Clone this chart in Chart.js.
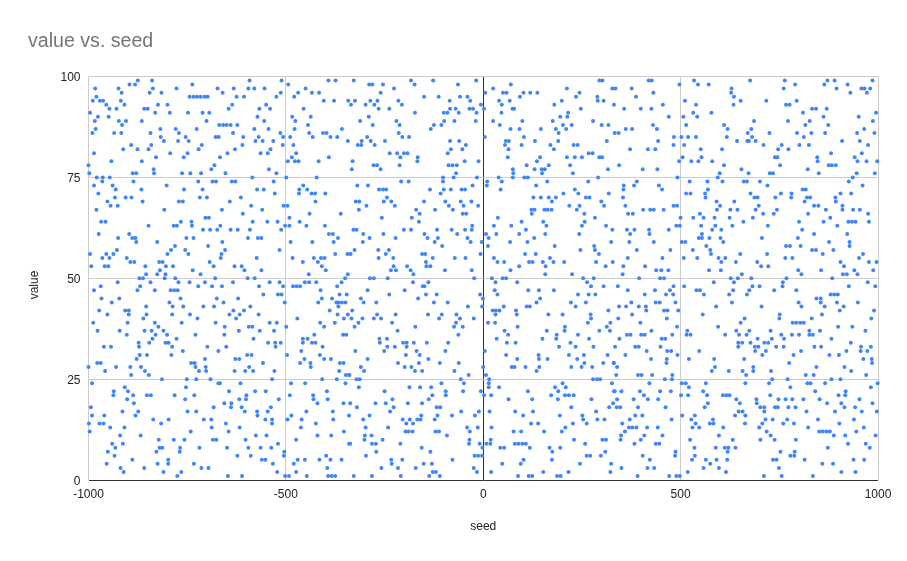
<!DOCTYPE html>
<html><head><meta charset="utf-8">
<style>html,body{margin:0;padding:0;background:#fff}canvas{display:block}</style>
<script src="https://cdn.jsdelivr.net/npm/chart.js@4"></script>
</head><body><canvas id="c" width="907" height="561"></canvas>
<script>
const chartTitle="value vs. seed";
const xAxisTitle="seed";
const yAxisTitle="value";
const values=[99,98,97,96,95,94,93,92,91,90,89,88,87,86,85,84,83,82,81,80,79,78,77,76,75,74,73,72,71,70,69,68,67,66,65,64,63,62,61,60,59,58,57,56,55,54,53,52,51,50,49,48,47,46,45,44,43,42,41,40,39,38,37,36,35,34,33,32,31,30,29,28,27,26,25,24,23,22,21,20,19,18,17,16,15,14,13,12,11,10,9,8,7,6,5,4,3,2,1];
const seedLists=[
[-875,-839,-592,-511,-392,-374,-328,-183,-127,-18,294,302,419,427,534,676,764,872,890,986],
[-896,-882,-737,-494,-289,-281,-254,-174,-64,70,497,544,571,790,864,923],
[-983,-924,-837,-777,-673,-632,-595,-580,-554,-450,-226,25,212,327,335,376,629,761,895,958,966,980],
[-916,-845,-815,-660,-513,-469,-434,-416,-260,5,50,59,102,119,137,244,431,628,930,972],
[-980,-744,-734,-725,-716,-706,-698,-625,-606,-524,-479,-150,-113,-59,-40,93,235,289,387,635],
[-989,-971,-963,-918,-404,-378,-342,-325,-286,-268,-215,-85,-33,40,67,199,290,305,511,652,717,794],
[-955,-909,-824,-800,-636,-550,-335,-298,-276,-206,-6,47,180,331,455,539,634,767,776],
[-947,-929,-859,-850,-645,-567,-540,-455,-265,-238,-84,-70,-35,-26,2,74,78,247,357,399,426,833,843,870],
[-996,-831,-794,-748,-711,-694,-173,-100,-91,-62,-17,46,215,532,578,810,995],
[-976,-949,-572,-484,-437,-290,195,213,470,507,542,862,951],
[-984,-923,-905,-865,-701,-555,-476,-312,-220,-99,-73,-19,25,99,176,278,686,772,827,987],
[-915,-669,-659,-650,-640,-623,-444,-280,-212,-125,-106,42,202,224,300,317,430,514,610,816,874],
[-982,-818,-779,-726,-580,-544,-478,-358,-133,69,92,146,184,210,361,377,440,619,679,965],
[-990,-935,-917,-843,-771,-634,-514,-441,-406,-397,-214,191,333,343,670,725,795,831,866,947,991],
[-817,-754,-678,-670,-608,-569,-507,-489,-432,-387,-370,-294,-205,-188,4,103,483,502,519,539,617,681,812],
[-809,-773,-746,-577,-559,-532,-343,-308,-285,-249,-84,-61,57,65,131,190,313,443,643,669,673,690,909,954],
[-892,-841,-713,-610,-508,-481,-318,-309,-275,-44,55,97,170,229,239,482,509,710,756,801,825,975],
[-912,-876,-848,-721,-629,-539,-82,-53,64,179,372,417,436,551,605,747,773],
[-986,-793,-749,-648,-564,-546,-474,-237,-218,-201,-192,-90,267,277,881,959],
[-829,-759,-667,-485,-391,-210,-166,62,144,212,232,250,294,301,505,553,739,745,846,941],
[-942,-865,-495,-477,-468,-417,-331,-167,-47,-12,136,496,527,545,580,847,948,971,998],
[-1000,-681,-278,-269,-212,-88,-78,-67,110,166,220,344,610,752,875,883,893],
[-835,-689,-543,-333,-260,75,130,148,156,316,404,441,654,822],
[-998,-888,-879,-834,-763,-742,-715,-653,-524,-69,76,149,227,599,672,726,734,850,946,992],
[-979,-964,-946,-585,-499,-422,-102,-75,-16,39,75,104,113,291,492,594,936],
[-965,-886,-722,-686,-677,-637,-628,-531,-208,-189,-102,10,47,162,266,389,523,568,606,660,668,701,926],
[-986,-939,-802,-456,-319,-292,-27,9,134,356,382,445,720,961],
[-931,-866,-758,-711,-573,-556,-466,-446,-264,-254,-246,-135,-100,-82,-55,-46,44,232,355,453,569,809,817],
[-975,-528,-467,-435,-426,-400,-108,203,241,318,514,525,562,677,754,781,905,932],
[-933,-906,-891,-718,-700,-614,-244,127,146,166,184,260,269,354,563,687,695,740,780,820,828,892],
[-952,-863,-771,-761,-642,-425,-323,-314,-252,-233,-150,-96,-57,-30,174,299,591,636,814,893],
[-944,-926,-588,-506,-496,-296,-224,-87,-50,-13,218,244,306,360,482,491,600,698,838,849,910],
[-980,-808,-662,-560,-315,-170,-122,-77,122,130,155,163,173,237,405,423,432,457,592,626,644,690,744,868,910,937,954],
[-609,-440,-361,-161,-52,-43,123,256,367,379,549,709,736,823,975],
[-704,-695,-491,-257,-181,37,283,500,532,558,586,624,683,879],
[-968,-957,-766,-739,-584,-547,-521,-465,-163,97,152,257,659,800,862,925,934,943,977],
[-848,-784,-776,-738,-666,-502,-491,-448,-401,-28,27,71,160,250,311,489,498,552,588,631,721,897],
[-710,-692,-674,-640,-622,-591,-512,-329,-321,-201,-183,-117,-80,-46,-29,108,327,364,383,420,470,580,603,808],
[-974,-897,-391,-381,-304,-253,-149,-66,7,33,91,157,243,372,421,554,838,922],
[-925,-889,-881,-752,-734,-596,-571,-562,-368,-288,-222,-141,-115,-40,14,129,546,554,573,601,706,797],
[-879,-826,-661,-488,-433,-379,-305,-123,-32,-4,68,112,324,370,432,503,512,608,876,928],
[-781,-697,-104,12,181,281,565,767,777,804,928],
[-928,-791,-755,-654,-516,-326,-266,-239,246,283,389,474,531,575,833,843,887],
[-996,-955,-937,-800,-747,-663,-375,-344,-336,-247,-155,-147,-7,106,133,293,577,651,719,860,962],
[-965,-947,-903,-665,-574,-483,-429,-411,-402,-265,-228,-128,-72,-45,27,169,366,454,508,542,596,613,765,783,952],
[-894,-884,-821,-812,-693,-457,-419,-145,36,53,116,125,151,178,205,286,328,603,640,694,905,977,996],
[-993,-959,-950,-856,-804,-786,-683,-630,-612,-409,-227,-193,-144,-134,91,158,310,355,410,704,722,914],
[-819,-736,-605,-562,-399,-234,-221,-184,-97,-29,69,438,451,469,572,602,798,856,940,988],
[-854,-826,-805,-716,-442,-343,-177,157,225,353,655,806,911,921,948],
[-871,-862,-807,-780,-679,-597,-579,-350,-287,-277,-242,-23,22,49,58,253,280,395,448,458,627,645,679,768,884],
[-926,-843,-772,-744,-705,-634,-541,-516,-452,-441,-423,-359,-178,-139,31,86,263,584,635,759,974],
[-969,-869,-722,-687,-662,-568,-507,-482,-473,-464,-370,-153,-149,273,305,341,482,509,682,700,758,926,993],
[-986,-876,-832,-792,-783,-774,-412,-293,-199,29,114,141,179,366,435,473,540,549,633,674,737,793],
[-557,-520,-511,-364,-346,-238,-145,-118,-8,36,240,267,284,409,463,481,559,623,668,880,889,898],
[-967,-922,-767,-675,-621,-409,-383,-310,-165,-1,144,844,855],
[-941,-795,-658,-503,-418,-372,-367,-358,-349,-303,-271,-125,-90,135,222,260,375,437,447,487,630,799,855,896,949],
[-854,-787,-760,-709,-682,-590,-367,-39,-3,52,110,118,234,344,362,394,412,590,705,806,865,913],
[-973,-907,-898,-633,-606,-389,-332,24,32,41,83,317,413,458,467,494,903,990],
[-952,-898,-853,-788,-743,-643,-617,-569,-369,-343,-269,-222,-140,-105,-68,31,85,165,201,272,377,556,751,858],
[-861,-724,-626,-471,-353,-334,-306,-277,-259,-112,-59,-24,273,342,465,662,750,832,983],
[-988,-901,-832,-764,-678,-541,-523,-413,-376,-316,-231,-69,12,30,265,322,398,652,784,793,803,812],
[-823,-655,-594,-585,-499,-403,-326,-172,-74,-52,87,207,313,491,595,899,935],
[-977,-921,-858,-840,-810,-619,-566,-530,-217,54,161,206,294,321,426,517,641,674,728,826,853,968],
[-903,-830,-801,-729,-656,-428,-355,-347,-63,63,186,240,364,373,400,409,479,515,525,613,648,667,755,782,800,826,835],
[-838,-777,-582,-457,-445,-263,-244,34,150,185,268,345,452,461,695,731,762,882],
[-873,-846,-805,-797,-545,-527,-513,-457,-434,-425,-262,-203,-194,-176,-143,-89,60,82,221,646,656,677,712,722,931],
[-961,-943,-872,-788,-699,-651,-526,-407,-243,-224,-194,192,234,279,334,385,394,449,646,688,697,742,761,839,856,957,982],
[-761,-671,-461,-324,-251,-169,-96,4,414,466,476,547,689,716,805,920,956,973],
[-870,-852,-790,-598,-587,-497,-414,-196,-161,58,140,217,255,315,360,492,707,786,877,901],
[-878,-705,-628,-618,-453,-403,-386,-293,-139,86,141,163,238,425,465,521,585,661,963,984],
[-978,-969,-740,-731,-558,-464,-438,-363,-354,-216,-163,-110,-62,256,304,330,331,464,775,985],
[-1000,-930,-894,-867,-729,-703,-593,-437,-310,-199,-182,0,72,79,107,142,223,249,276,339,587,684,844,915],
[-958,-857,-720,-702,-630,-603,-583,-529,-365,-302,-173,-155,-73,135,579,622,657,684,729,932],
[-892,-847,-348,-340,-339,-37,7,337,392,401,428,479,666,817,837,970],
[-814,-751,-727,-691,-535,-408,-371,-321,-313,-57,15,278,288,296,460,478,732,771,882,905],
[-991,-671,-667,-615,-487,-451,-349,-106,-49,14,201,326,421,503,513,564,664,724,821,829,866,999],
[-908,-753,-315,-187,-160,-132,14,40,182,209,521,778,982],
[-936,-900,-644,-578,-551,-396,-250,-95,-51,-6,113,190,331,333,350,397,448,475,557,841,918],
[-937,-887,-852,-842,-782,-732,-600,-490,-431,-129,-95,2,20,172,207,217,229,407,501,519,567,607,616,624,727,900,917],
[-902,-755,-618,-601,-518,-430,-394,-230,-138,64,124,189,274,339,381,417,443,641,692,748,766,783,811,852,953],
[-885,-656,-638,-420,-354,-337,-273,-247,-191,-155,329,569,650,693,871,907,986],
[-994,-683,-639,-612,-538,-320,-227,-118,-109,223,319,338,347,392,462,561,702,712,739,746,773,791,915,942],
[-914,-874,-749,-727,-604,-573,-546,-448,-381,-236,-56,-11,16,81,126,286,647,657,712,819,891,959,997],
[-991,-960,-881,-572,-486,-340,-288,-157,-116,-79,-21,101,194,251,385,403,504,536,638,664],
[-836,-797,-708,-689,-552,-535,-496,-460,-380,-304,-204,-186,-167,-159,-123,253,289,307,371,477,527,582,715,733,770,848,939],
[-999,-972,-962,-816,-652,-535,-424,-195,-178,121,139,227,262,352,538,574,583,663,707,760,787,902],
[-945,-909,-688,-617,-462,-298,-241,-41,-14,21,208,369,378,388,415,442,530,547,608,699,823,964],
[-997,-741,-645,-353,-197,-189,-179,-121,-112,-34,77,96,154,199,359,718,851,860,869,878,945],
[-920,-868,-576,-549,-420,-385,-300,-283,-92,349,408,454,597,728,888,917,994],
[-822,-784,-757,-685,-676,-602,-474,-301,-255,-35,19,230,302,311,348,399,524,632,702,738,792],
[-940,-913,-520,-340,-337,-282,-272,-210,-36,-9,8,18,80,89,99,108,258,383,437,446,924,969],
[-932,-820,-813,-768,-719,-649,-595,-564,-537,-156,-2,43,53,118,168,195,535,589,612,621,639,873,979],
[-951,-828,-769,-504,-271,-134,175,309,487,619,753,789],
[-934,-623,-589,-505,-398,-297,-22,-13,-3,262,271,298,404,486,536,778,788],
[-889,-798,-561,-552,-470,-452,-415,-387,-359,-233,-205,-78,102,174,422,529,564,591,618,734,743,814,938,965],
[-954,-825,-798,-733,-533,-480,-232,-151,-130,48,95,245,324,575,859,886],
[-919,-859,-714,-696,-395,-258,-216,-171,-24,350,416,433,558,597,749],
[-911,-810,-765,-522,-474,-128,-120,-16,20,152,216,322,518,615,907,943],
[-775,-647,-611,-502,-492,-447,-393,-384,-375,-328,-282,-209,-137,-110,88,115,124,187,196,391,471,489,498,711,756,835]
];
const points=[];
values.forEach((v,i)=>seedLists[i].forEach(s=>points.push({x:s,y:v})));
const fontFamily="'Liberation Sans',Arial,sans-serif";
const tickFont={family:fontFamily,size:12};
const grid=(ctx)=>ctx.tick&&ctx.tick.value===0?'#333333':'#cccccc';
const yTitlePlugin={id:'yTitle',afterDraw(chart){
  const c=chart.ctx;c.save();c.translate(35,285);c.rotate(-Math.PI/2);
  c.font="12px "+fontFamily;c.fillStyle='#222222';c.textAlign='center';c.textBaseline='middle';
  c.fillText(yAxisTitle,0,0);c.restore();}};
new Chart(document.getElementById('c'),{
  type:'scatter',
  plugins:[yTitlePlugin],
  data:{datasets:[{data:points,backgroundColor:'#4285F4',borderColor:'#4285F4',pointRadius:2,pointBorderWidth:0,pointHoverRadius:2,clip:false}]},
  options:{
    responsive:false,animation:false,devicePixelRatio:1,
    layout:{padding:{left:28,right:29,top:30,bottom:27}},
    plugins:{legend:{display:false},tooltip:{enabled:false},
      title:{display:true,text:chartTitle,align:'start',color:'#757575',padding:{top:0,bottom:23},font:{family:fontFamily,size:19.6,weight:'normal'}}},
    scales:{
      x:{type:'linear',min:-1000,max:1000,
        afterFit(s){s.height=54;},
        ticks:{stepSize:500,color:'#222222',font:tickFont,padding:7,maxRotation:0,callback:v=>String(v)},
        grid:{color:grid,drawTicks:false,lineWidth:1},border:{display:false},
        title:{display:true,text:xAxisTitle,color:'#222222',font:tickFont,padding:{top:0,bottom:0}}},
      y:{type:'linear',min:0,max:100,
        afterFit(s){s.width=60.5;},
        ticks:{stepSize:25,color:'#222222',font:tickFont,padding:8,labelOffset:1.5,callback:v=>String(v)},
        grid:{color:grid,drawTicks:false,lineWidth:1},border:{display:false}}
    }
  }
});
</script></body></html>
